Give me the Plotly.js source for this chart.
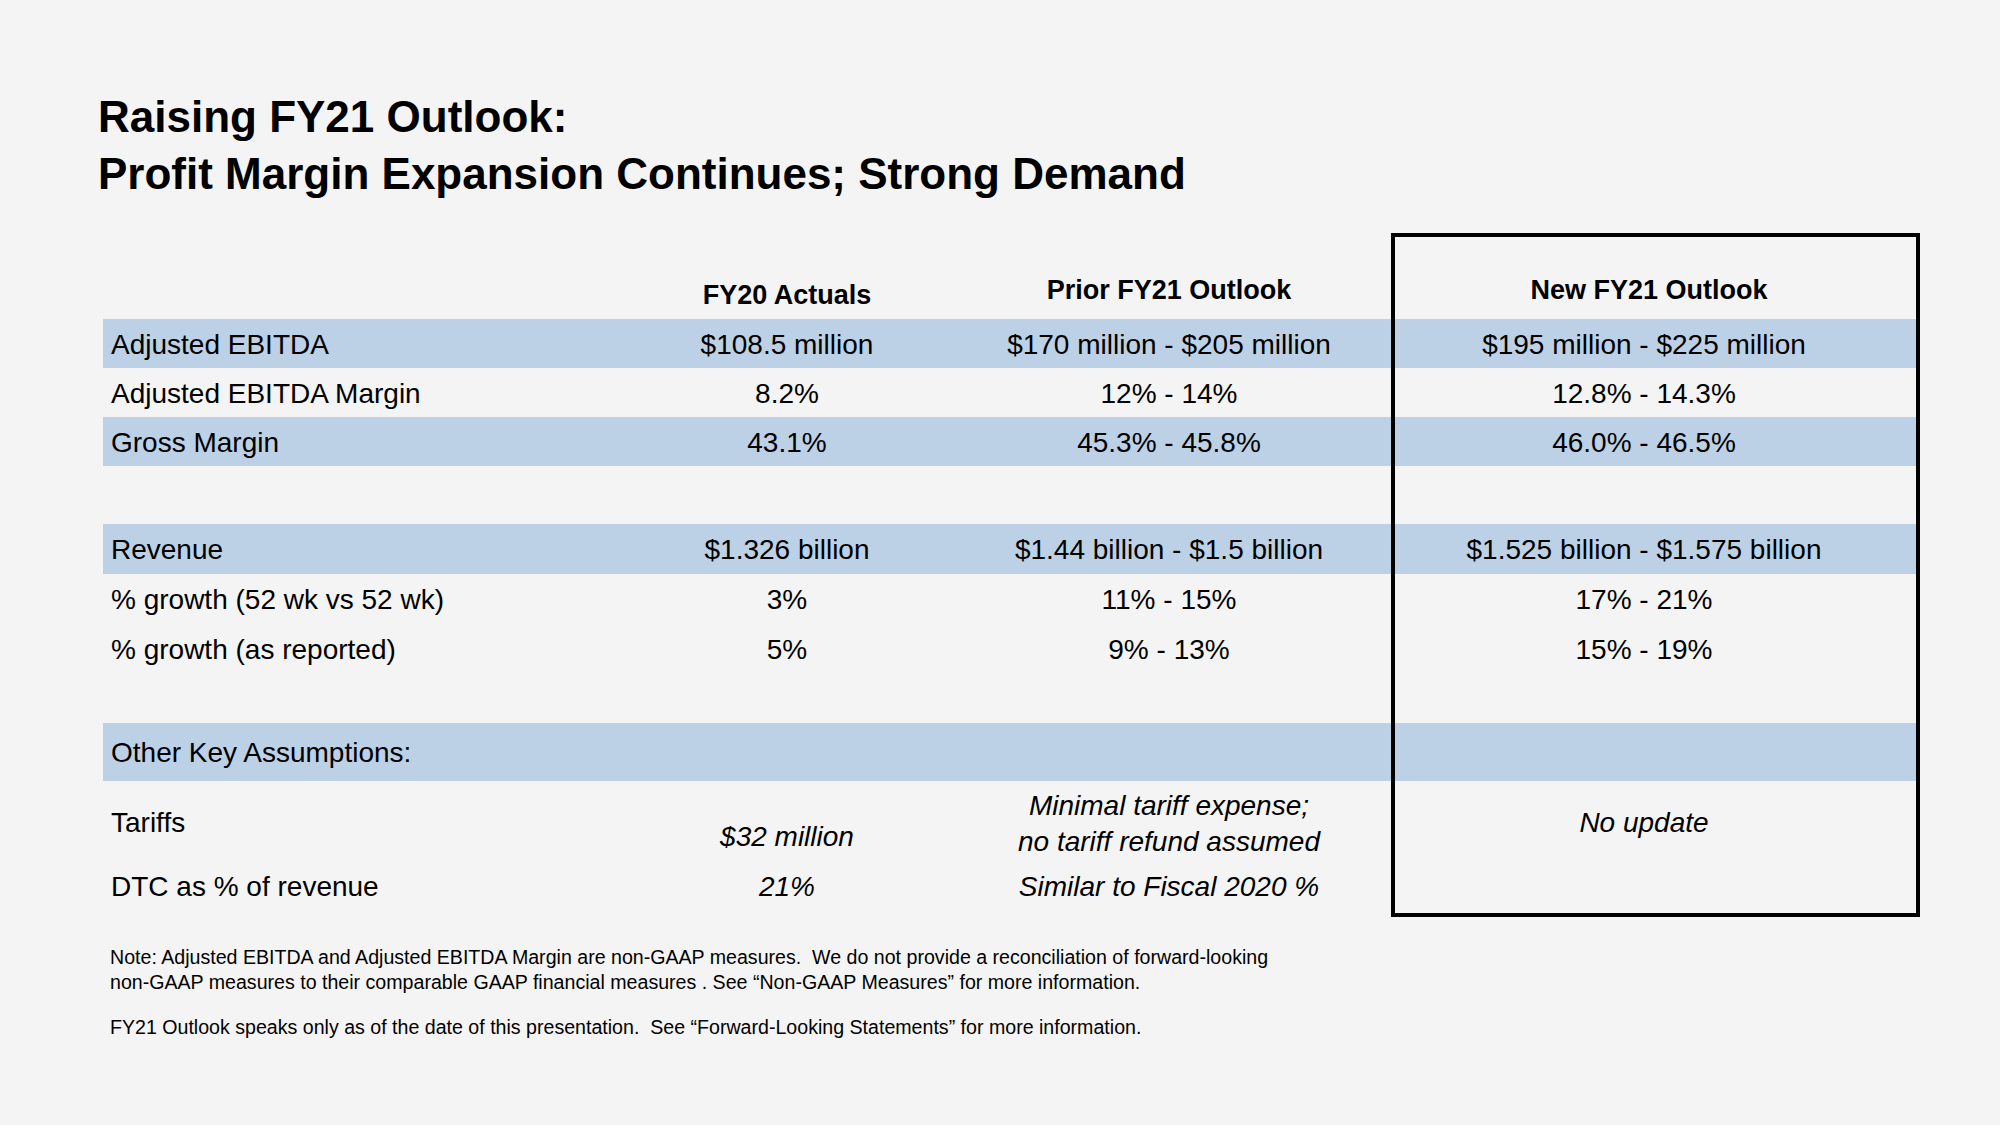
<!DOCTYPE html>
<html>
<head>
<meta charset="utf-8">
<script src="https://cdn.plot.ly/plotly-3.0.1.min.js"></script>
<style>
  html, body { margin: 0; padding: 0; background: #f4f4f4; }
  #chart { width: 2000px; height: 1125px; }
</style>
</head>
<body>
<div id="chart"></div>
<script>
// ---------------- data ----------------
const titleLines = [
  "Raising FY21 Outlook:",
  "Profit Margin Expansion Continues; Strong Demand"
];
const columnHeaders = ["FY20 Actuals", "Prior FY21 Outlook", "New FY21 Outlook"];
const rowLabels = [
  "Adjusted EBITDA",
  "Adjusted EBITDA Margin",
  "Gross Margin",
  "Revenue",
  "% growth (52 wk vs 52 wk)",
  "% growth (as reported)",
  "Other Key Assumptions:",
  "Tariffs",
  "DTC as % of revenue"
];
const fy20Actuals = [
  "$108.5 million", "8.2%", "43.1%",
  "$1.326 billion", "3%", "5%",
  "", "<i>$32 million</i>", "<i>21%</i>"
];
const priorFY21Outlook = [
  "$170 million - $205 million", "12% - 14%", "45.3% - 45.8%",
  "$1.44 billion - $1.5 billion", "11% - 15%", "9% - 13%",
  "", "<i>Minimal tariff expense;<br>no tariff refund assumed</i>", "<i>Similar to Fiscal 2020 %</i>"
];
const newFY21Outlook = [
  "$195 million - $225 million", "12.8% - 14.3%", "46.0% - 46.5%",
  "$1.525 billion - $1.575 billion", "17% - 21%", "15% - 19%",
  "", "<i>No update</i>", ""
];
const shadedRows = [true, false, true, true, false, false, true, false, false];
const noteLines = [
  "Note: Adjusted EBITDA and Adjusted EBITDA Margin are non-GAAP measures.  We do not provide a reconciliation of forward-looking",
  "non-GAAP measures to their comparable GAAP financial measures . See \u201cNon-GAAP Measures\u201d for more information."
];
const disclaimer = "FY21 Outlook speaks only as of the date of this presentation.  See \u201cForward-Looking Statements\u201d for more information.";

// ---------------- layout grid (pixels) ----------------
const W = 2000, H = 1125;
const FONT = "Liberation Sans, Arial, Helvetica, sans-serif";
const INK = "#000000";
const BAND = "#bcd1e6";
const BG = "#f4f4f4";

const tableLeft = 103, tableRight = 1916;
const labelX = 111;
const colCenters = [787, 1169, 1644];
const headerY = [297, 292, 292];
const textDrop = 3;          // optical offset of text within its row
// row tops & heights per section (gaps between sections)
const rowTops =    [319, 368, 417, 524, 574, 624, 723, 797, 861];
const rowHeights = [49, 49, 49, 50, 50, 50, 58, 50, 50];
const rowCenters = rowTops.map((t, i) => t + rowHeights[i] / 2);
const box = {x0: 1393, x1: 1918, y0: 235, y1: 915};

// ---------------- traces ----------------
const shadedIdx = shadedRows.map((s, i) => s ? i : -1).filter(i => i >= 0);
const bandTrace = {
  type: "bar",
  orientation: "h",
  y: shadedIdx.map(i => rowCenters[i]),
  x: shadedIdx.map(() => tableRight - tableLeft),
  base: shadedIdx.map(() => tableLeft),
  width: shadedIdx.map(i => rowHeights[i]),
  marker: {color: BAND, line: {width: 0}},
  hoverinfo: "skip",
  showlegend: false
};

const labelTrace = {
  type: "scatter",
  mode: "text",
  x: rowLabels.map(() => labelX),
  y: rowLabels.map((_, i) => rowCenters[i] + textDrop),
  text: rowLabels,
  textposition: "middle right",
  textfont: {family: FONT, size: 28, color: INK},
  hoverinfo: "skip",
  showlegend: false
};

const valueCols = [fy20Actuals, priorFY21Outlook, newFY21Outlook];
const valueTraces = valueCols.map((vals, c) => ({
  type: "scatter",
  mode: "text",
  x: vals.map(() => colCenters[c]),
  y: vals.map((_, i) => rowCenters[i] + textDrop + ((c === 1 && rowLabels[i] === "Tariffs") ? 1 : 0)),
  text: vals,
  // FY20 tariff cell sits lower in its cell
  textposition: vals.map((_, i) => (c === 0 && rowLabels[i] === "Tariffs") ? "bottom center" : "middle center"),
  textfont: {family: FONT, size: 28, color: INK},
  hoverinfo: "skip",
  showlegend: false
}));

const headerTrace = {
  type: "scatter",
  mode: "text",
  x: colCenters.map((c, i) => c + (i === 2 ? 5 : 0)),
  y: headerY,
  text: columnHeaders.map(h => "<b>" + h + "</b>"),
  textposition: "middle center",
  textfont: {family: FONT, size: 27, color: INK},
  hoverinfo: "skip",
  showlegend: false
};

// ---------------- layout ----------------
const layout = {
  width: W, height: H,
  margin: {l: 0, r: 0, t: 0, b: 0, pad: 0},
  paper_bgcolor: BG,
  plot_bgcolor: BG,
  showlegend: false,
  bargap: 0,
  title: {
    text: "<b>" + titleLines.join("<br>") + "</b>",
    x: 98 / W, xanchor: "left", xref: "paper",
    y: 1 - 132 / H, yanchor: "middle", yref: "paper",
    font: {family: FONT, size: 44, color: INK}
  },
  xaxis: {range: [0, W], visible: false, fixedrange: true},
  yaxis: {range: [H, 0], visible: false, fixedrange: true},
  shapes: [{
    type: "rect", xref: "x", yref: "y",
    x0: box.x0, x1: box.x1, y0: box.y0, y1: box.y1,
    line: {color: INK, width: 4}, fillcolor: "rgba(0,0,0,0)", layer: "above"
  }],
  annotations: [
    {
      xref: "x", yref: "y", x: 108, y: 969, xanchor: "left", yanchor: "middle",
      align: "left", showarrow: false,
      text: noteLines.join("<br>"),
      font: {family: FONT, size: 19.6, color: INK}
    },
    {
      xref: "x", yref: "y", x: 108, y: 1027, xanchor: "left", yanchor: "middle",
      align: "left", showarrow: false,
      text: disclaimer,
      font: {family: FONT, size: 19.6, color: INK}
    }
  ]
};

Plotly.newPlot("chart", [bandTrace, labelTrace, headerTrace].concat(valueTraces), layout,
  {displayModeBar: false, staticPlot: true});
</script>
</body>
</html>
